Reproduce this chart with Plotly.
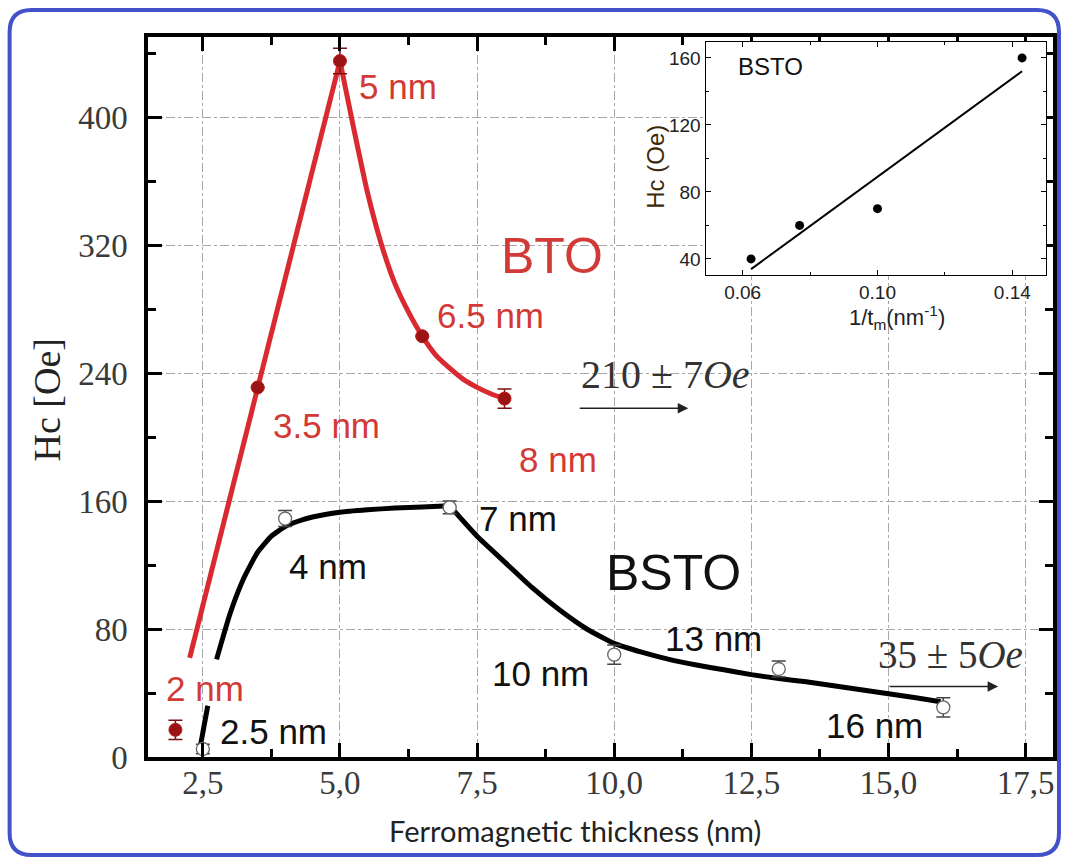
import numpy as np
import plotly.graph_objects as go

# ---------------- measured coercivity ----------------
bto_t = [2.0, 3.5, 5.0, 6.5, 8.0]            # ferromagnetic thickness, nm
bto_hc = [17, 231, 435, 263, 224]            # Hc, Oe
bto_err = [6, 0, 8, 0, 6]

bsto_t = [2.5, 4.0, 7.0, 10.0, 13.0, 16.0]
bsto_hc = [5, 149, 156, 64, 55, 31]
bsto_err = [3, 5, 4, 6, 5, 6]

# ---------------- hand-drawn trend curves ----------------
bto_rise_t = [2.26, 5.0]
bto_rise_hc = [62, 435]
bto_decay_t = [5.0, 5.25, 5.5, 5.75, 6.0, 6.25, 6.5, 6.75, 7.0, 7.25, 7.5, 7.75, 8.0]
bto_decay_hc = [435, 393, 353, 321, 296, 278, 263, 251, 243, 236, 231, 227, 224]

bsto_onset_t = [2.45, 2.59]
bsto_onset_hc = [6, 32]
bsto_rise_t = [2.75, 3.0, 3.25, 3.5, 3.75, 4.0, 4.25, 4.5, 5.0, 5.5, 6.0, 6.5, 7.0]
bsto_rise_hc = [61, 90, 112, 128, 138, 144, 147.5, 150, 153, 154.5, 155.6, 156.3, 157]
bsto_decay_t = [7.0, 7.5, 8.0, 8.5, 9.0, 9.5, 10.0, 10.5, 11.0, 11.5, 12.0, 12.5,
                13.0, 13.5, 14.0, 14.5, 15.0, 15.5, 15.95]
bsto_decay_hc = [157, 138, 122, 106, 92, 80, 71, 65.5, 61, 57.5, 54.5, 51.5,
                 49, 47, 44.5, 42, 39.5, 37, 34.5]

# ---------------- inset: Hc versus 1/t for BSTO ----------------
inv_t = [0.0625, 0.0769, 0.1, 0.1429]
inv_hc = [40, 60, 70, 160]

# ---------------- tick labels ----------------
x_ticks = [2.5, 5.0, 7.5, 10.0, 12.5, 15.0, 17.5]
x_tick_text = ["2,5", "5,0", "7,5", "10,0", "12,5", "15,0", "17,5"]
y_ticks = [0, 80, 160, 240, 320, 400]
inset_x_ticks = [0.06, 0.10, 0.14]
inset_x_text = ["0.06", "0.10", "0.14"]
inset_y_ticks = [40, 80, 120, 160]

# ---------------- page geometry (pixels) ----------------
W, H = 1065, 858
M_L, M_R, M_T, M_B = 148, 8, 37, 101
PW, PH = W - M_L - M_R, H - M_T - M_B


def px(xp):
    return (xp - M_L) / PW


def py(yp):
    return (H - M_B - yp) / PH


RED = "#d82a30"
RED_TXT = "#d23a37"
DARK_RED = "#9a1414"
SERIF = "Liberation Serif"
SANS = "Liberation Sans"

fig = go.Figure()

curve_line = dict(width=5, shape="spline", smoothing=0.5)

# BTO trend
fig.add_trace(go.Scatter(x=bto_rise_t, y=bto_rise_hc, mode="lines",
                         line=dict(color=RED, width=5), hoverinfo="skip"))
fig.add_trace(go.Scatter(x=bto_decay_t, y=bto_decay_hc, mode="lines",
                         line=dict(curve_line, color=RED), hoverinfo="skip"))
# BSTO trend
fig.add_trace(go.Scatter(x=bsto_onset_t, y=bsto_onset_hc, mode="lines",
                         line=dict(color="black", width=5), hoverinfo="skip"))
fig.add_trace(go.Scatter(x=bsto_rise_t, y=bsto_rise_hc, mode="lines",
                         line=dict(curve_line, color="black"), hoverinfo="skip"))
fig.add_trace(go.Scatter(x=bsto_decay_t, y=bsto_decay_hc, mode="lines",
                         line=dict(curve_line, color="black"), hoverinfo="skip"))

# data points
fig.add_trace(go.Scatter(
    x=bto_t, y=bto_hc, mode="markers",
    marker=dict(size=13, color=DARK_RED, line=dict(color="#c01c1c", width=1)),
    error_y=dict(type="data", array=bto_err, color="#7a1010", thickness=1.5, width=7),
))
fig.add_trace(go.Scatter(
    x=bsto_t, y=bsto_hc, mode="markers",
    marker=dict(size=13, color="white", line=dict(color="#666", width=1.3)),
    error_y=dict(type="data", array=bsto_err, color="#444", thickness=1.5, width=7),
))

# inset
slope, icpt = np.polyfit(inv_t, inv_hc, 1)
fit_x = np.array([min(inv_t), max(inv_t)])
fig.add_trace(go.Scatter(x=fit_x, y=slope * fit_x + icpt, mode="lines",
                         line=dict(color="black", width=2),
                         xaxis="x2", yaxis="y2", hoverinfo="skip"))
fig.add_trace(go.Scatter(x=inv_t, y=inv_hc, mode="markers",
                         marker=dict(size=9, color="black"),
                         xaxis="x2", yaxis="y2"))

main_axis = dict(
    showline=True, linecolor="black", linewidth=3.5, mirror="ticks",
    ticks="inside", ticklen=14, tickwidth=3, tickcolor="black",
    showgrid=True, gridcolor="#a8a8a8", gridwidth=1, griddash="dashdot",
    zeroline=False,
    tickfont=dict(family=SERIF, size=33, color="#3a3a3a"),
)

fig.update_layout(
    width=W, height=H,
    margin=dict(l=M_L, r=M_R, t=M_T, b=M_B),
    paper_bgcolor="white", plot_bgcolor="white",
    showlegend=False,
    xaxis=dict(main_axis, range=[1.5, 18], tickvals=x_ticks, ticktext=x_tick_text,
               ticklabelstandoff=-6,
               minor=dict(dtick=1.25, tick0=0, ticks="inside", ticklen=8,
                          tickwidth=2.5, tickcolor="black", showgrid=False)),
    yaxis=dict(main_axis, range=[0, 450], tickvals=y_ticks,
               ticklabelstandoff=10,
               minor=dict(dtick=40, tick0=0, ticks="inside", ticklen=8,
                          tickwidth=2.5, tickcolor="black", showgrid=False)),
    xaxis2=dict(domain=[px(708), px(1050)], anchor="y2", range=[0.049, 0.15],
                showline=True, linecolor="black", linewidth=1.2, mirror="ticks",
                ticks="inside", ticklen=5, tickcolor="black",
                tickvals=inset_x_ticks, ticktext=inset_x_text,
                minor=dict(dtick=0.02, tick0=0.0, ticks="inside", ticklen=3,
                           tickcolor="black"),
                showgrid=False, zeroline=False,
                tickfont=dict(family=SANS, size=19, color="#222")),
    yaxis2=dict(domain=[py(275), py(42)], anchor="x2", range=[30.4, 169.5],
                showline=True, linecolor="black", linewidth=1.2, mirror="ticks",
                ticks="inside", ticklen=5, tickcolor="black",
                tickvals=inset_y_ticks,
                minor=dict(dtick=20, tick0=0, ticks="inside", ticklen=3,
                           tickcolor="black"),
                showgrid=False, zeroline=False,
                tickfont=dict(family=SANS, size=19, color="#222")),
)

# rounded blue frame around the whole figure
x0, y0, x1, y1, r = 9, 10, 1063, 855, 22
frame = (
    f"M {px(x0 + r)},{py(y0)} L {px(x1 - r)},{py(y0)} "
    f"Q {px(x1)},{py(y0)} {px(x1)},{py(y0 + r)} L {px(x1)},{py(y1 - r)} "
    f"Q {px(x1)},{py(y1)} {px(x1 - r)},{py(y1)} L {px(x0 + r)},{py(y1)} "
    f"Q {px(x0)},{py(y1)} {px(x0)},{py(y1 - r)} L {px(x0)},{py(y0 + r)} "
    f"Q {px(x0)},{py(y0)} {px(x0 + r)},{py(y0)} Z"
)
fig.add_shape(type="path", path=frame, xref="paper", yref="paper",
              line=dict(color="#4352c9", width=4), layer="above")


def label(text, x, y, size, color, family=SANS, ref="data", angle=0):
    kw = dict(xref="paper", yref="paper") if ref == "paper" else {}
    fig.add_annotation(text=text, x=x, y=y, showarrow=False, textangle=angle,
                       xanchor="center", yanchor="middle",
                       font=dict(family=family, size=size, color=color), **kw)


# axis titles
label("Hc [Oe]", px(47), py(400), 38, "#222", SERIF, "paper", -90)
label("Ferromagnetic thickness (nm)", px(577), py(830), 29, "#222", "Lato", "paper")
label("Hc (Oe)", px(657), py(167), 24, "#3b2a08", SANS, "paper", -90)
label("1/t<sub>m</sub>(nm<sup>-1</sup>)", px(900), py(318), 22, "#222", SANS, "paper")
label("BSTO", px(773), py(67), 24, "#111", SANS, "paper")

# thickness labels on the curves
red_labels = [("5 nm", 6.05, 419), ("6.5 nm", 7.74, 276), ("3.5 nm", 4.75, 207),
              ("8 nm", 8.97, 186), ("2 nm", 2.54, 43)]
black_labels = [("7 nm", 8.25, 149), ("4 nm", 4.79, 119), ("13 nm", 11.81, 74),
                ("10 nm", 8.66, 52), ("16 nm", 14.74, 20), ("2.5 nm", 3.79, 16)]
for txt, xv, yv in red_labels:
    label(txt, xv, yv, 35, RED_TXT)
for txt, xv, yv in black_labels:
    label(txt, xv, yv, 35, "#111")
label("BTO", 8.86, 313, 50, RED_TXT)
label("BSTO", 11.08, 115, 50, "#111")

# saturation values with arrows
label("210 ± 7<i>Oe</i>", 10.94, 239, 40, "#333", SERIF)
label("35 ± 5<i>Oe</i>", 16.14, 64, 39, "#333", SERIF)
fig.add_annotation(text="", x=11.35, y=218, ax=-110, ay=0, showarrow=True,
                   arrowhead=2, arrowsize=1.4, arrowwidth=1.5, arrowcolor="#222")
fig.add_annotation(text="", x=17.0, y=44, ax=-110, ay=0, showarrow=True,
                   arrowhead=2, arrowsize=1.4, arrowwidth=1.5, arrowcolor="#222")

fig.write_html("out.html")
